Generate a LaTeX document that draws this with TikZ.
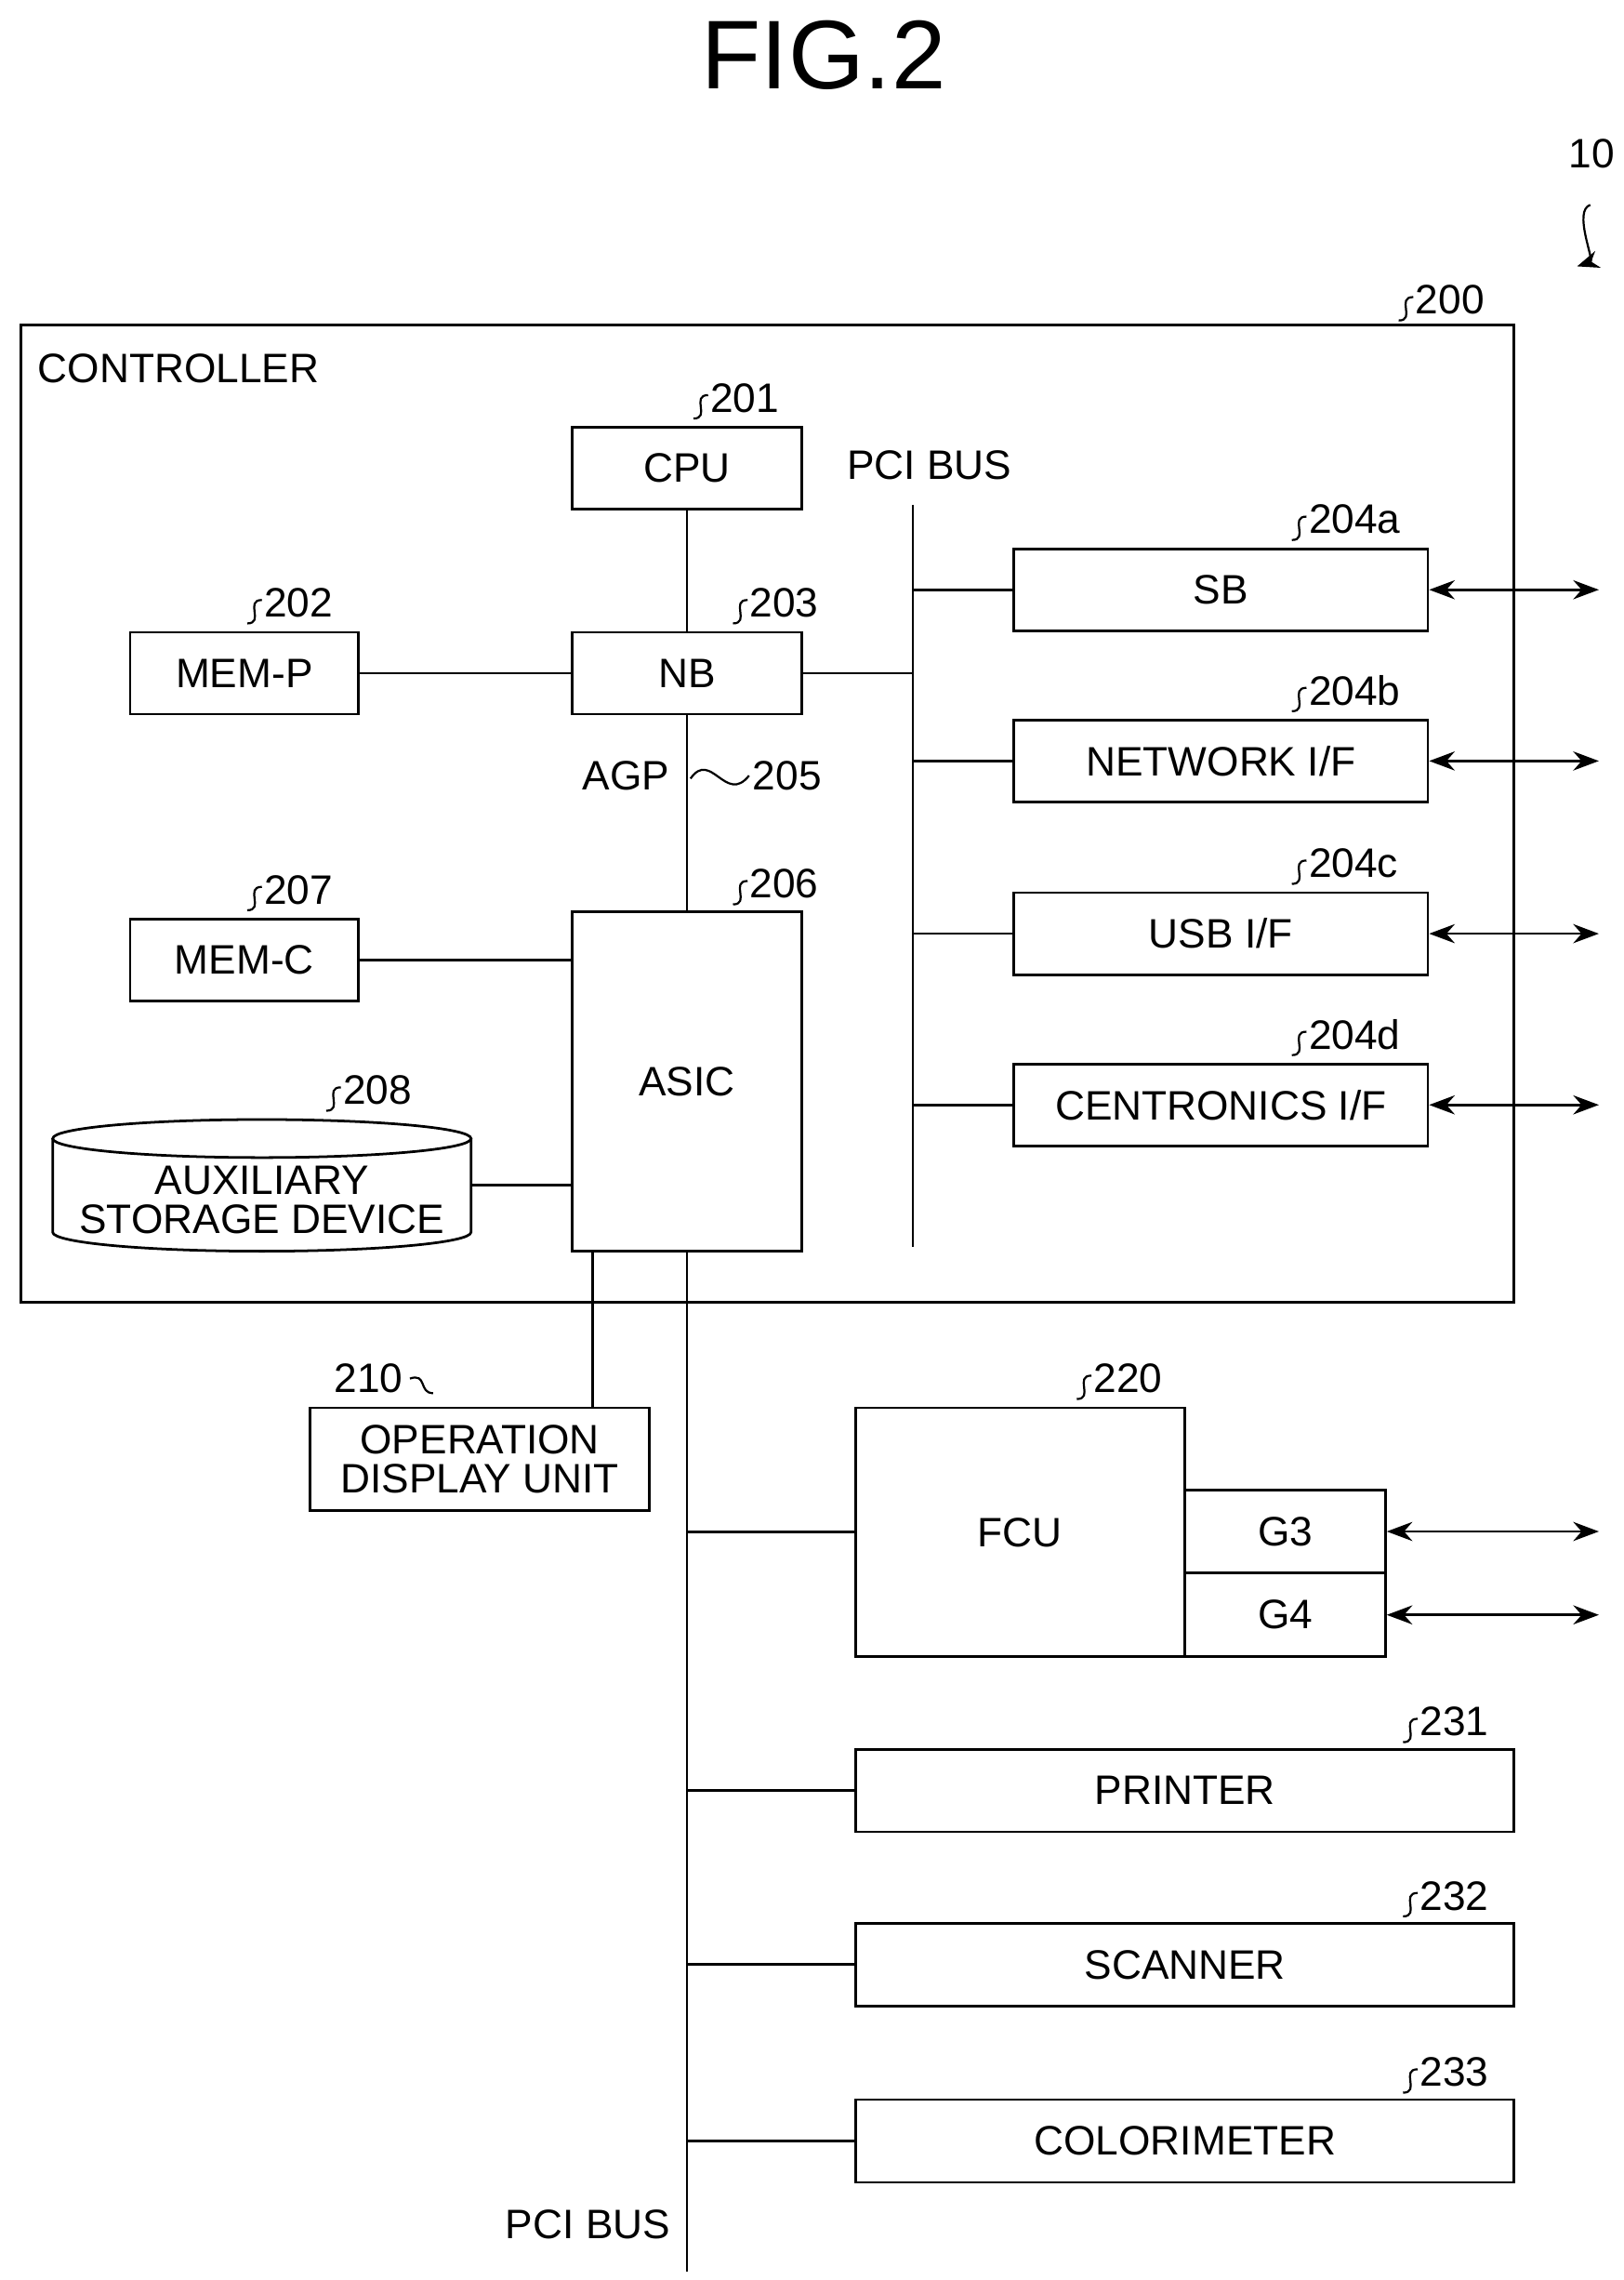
\documentclass[tikz,border=0pt]{standalone}
\usepackage{fontspec}
\setmainfont{Liberation Sans}
\usetikzlibrary{arrows.meta,calc}

\tikzset{
  box/.style={draw, line width=1pt, inner sep=0pt, align=center},
  num/.style={inner sep=1pt, anchor=west},
  io/.style={line width=1pt, {Stealth[length=3.5mm,width=2.6mm]}-{Stealth[length=3.5mm,width=2.6mm]}}
}
\newcommand\refnum[3]{%
  \node[num] (#1) at (#2) {#3};
  \draw[line width=0.8pt] ($(#1.west)+(1,-2)$) .. controls +(-12,0) and +(12,0) .. ++(-10,16);
}

\begin{document}
\begin{tikzpicture}[x=0.02cm, y=-0.02cm, line width=1pt, font=\fontsize{16}{18}\selectfont]
\useasboundingbox (0,0) rectangle (1110,1558);

\node (title) at (563,38) {\fontsize{38}{40}\selectfont FIG.2};
\node (n10) at (1088,105) {10};
\draw[line width=0.8pt, -{Stealth[length=3mm,width=2.4mm]}] (1087,140) .. controls +(-12,4) and +(12,-4) .. (1078,182);

% controller
\node[box, minimum width=20.42cm, minimum height=13.36cm] (ctrl) at (524.5,556) {};
\node[anchor=west, inner sep=0pt] (ctrltxt) at (25,252) {CONTROLLER};
\refnum{r200}{965,205}{200}

\node[box, minimum width=3.14cm, minimum height=1.12cm] (cpu) at (469.5,320) {CPU};
\node[box, minimum width=3.14cm, minimum height=1.12cm] (nb) at (469.5,460) {NB};
\node[box, minimum width=3.12cm, minimum height=1.12cm] (memp) at (167,460) {MEM-P};
\node[box, minimum width=3.12cm, minimum height=1.12cm] (memc) at (167,656) {MEM-C};
\node[box, minimum width=3.14cm, minimum height=4.64cm] (asic) at (469.5,739) {ASIC};
\refnum{r201}{483,272}{201}
\refnum{r202}{178,412}{202}
\refnum{r203}{510,412}{203}
\refnum{r206}{510,604}{206}
\refnum{r207}{178,608}{207}

\node (agp) at (428,530) {AGP};
\node[num] (r205) at (512,530) {205};
\draw[line width=0.8pt] (472,532) .. controls (486,512) and (496,550) .. (r205.west);

% auxiliary storage
\draw (36,778) ellipse [x radius=0cm, y radius=0cm];
\draw[fill=white] (179,778) ellipse [x radius=2.86cm, y radius=0.26cm];
\draw (36,778) -- (36,842) arc[start angle=180, end angle=360, x radius=2.86cm, y radius=0.26cm] -- (322,778);
\node[align=center, inner sep=0pt] (aux) at (179,820) {AUXILIARY\\[-3pt]STORAGE DEVICE};
\coordinate (auxE) at (322,810);
\refnum{r208}{232,745}{208}

% PCI bus in controller
\coordinate (busT) at (624,345);
\coordinate (busB) at (624,852);
\draw (busT) -- (busB);
\node[anchor=west, inner sep=0pt] (pcitop) at (578,318) {PCI BUS};

\foreach \nm/\txt/\y/\rn in {sb/SB/403/204a, net/NETWORK I\slash F/520/204b, usb/USB I\slash F/638/204c, cen/CENTRONICS I\slash F/755/204d} {
  \node[box, minimum width=5.66cm, minimum height=1.12cm] (\nm) at (834.5,\y) {\txt};
  \draw (\nm.west -| busT) -- (\nm.west);
  \draw[io] (\nm.east) -- ++(116,0);
  \refnum{r\rn}{892,\y-48}{\rn}
}

\draw (cpu) -- (nb);
\draw (memp) -- (nb);
\draw (nb) -- (asic);
\draw (nb.east) -- (nb.east -| busT);
\draw (memc.east) -- (memc.east -| asic.west);
\draw (auxE) -- (auxE -| asic.west);

% outside
\node[box, minimum width=4.64cm, minimum height=1.4cm] (opu) at (328,997) {OPERATION\\[-3pt]DISPLAY UNIT};
\coordinate (opx) at (405,0);
\draw (asic.south -| opx) -- (opu.north -| opx);
\node (r210) at (252,942) {210};
\draw[line width=0.8pt] ($(r210.east)+(-2,0)$) .. controls +(12,-4) and +(-10,0) .. (296,952);

\coordinate (pciB) at (469.5,1552);
\draw (asic.south) -- (pciB);
\node[anchor=east, inner sep=0pt] (pcibot) at (459,1520) {PCI BUS};

\node[box, minimum width=4.5cm, minimum height=3.4cm] (fcu) at (697.5,1047) {};
\node (fcutxt) at (697,1047) {FCU};
\node[box, minimum width=2.74cm, minimum height=1.14cm] (g3) at (878.5,1046.5) {G3};
\node[box, minimum width=2.74cm, minimum height=1.14cm] (g4) at (878.5,1103.5) {G4};
\draw (fcu.west -| pciB) -- (fcu.west);
\draw[io] (g3.east) -- ++(145,0);
\draw[io] (g4.east) -- ++(145,0);
\refnum{r220}{745,942}{220}

\foreach \nm/\txt/\y/\rn in {prn/PRINTER/1223.5/231, scn/SCANNER/1342.5/232, col/COLORIMETER/1463/233} {
  \node[box, minimum width=9cm, minimum height=1.13cm] (\nm) at (810,\y) {\txt};
  \draw (\nm.west -| pciB) -- (\nm.west);
  \refnum{r\rn}{968,\y-47}{\rn}
}
\end{tikzpicture}
\end{document}
